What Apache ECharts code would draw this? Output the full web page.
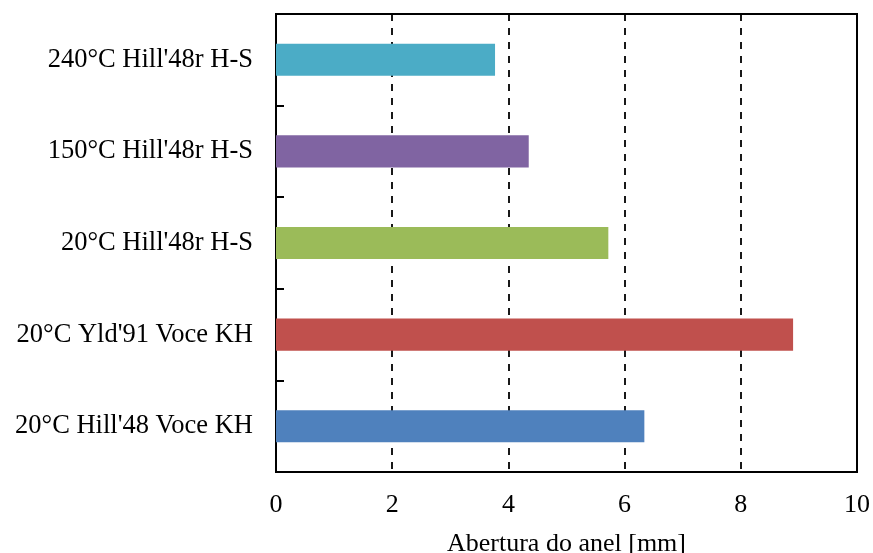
<!DOCTYPE html>
<html>
<head>
<meta charset="utf-8">
<script src="https://cdn.jsdelivr.net/npm/echarts@6/dist/echarts.min.js"></script>
<style>
  html, body { margin: 0; padding: 0; background: #fff; overflow: hidden; }
  #chart { width: 873px; height: 553px; }
</style>
</head>
<body>
<div id="chart"></div>
<script>
// Ring opening per simulation case (bottom to top on the category axis)
const categories = [
  "20°C Hill'48 Voce KH",
  "20°C Yld'91 Voce KH",
  "20°C Hill'48r H-S",
  "150°C Hill'48r H-S",
  "240°C Hill'48r H-S"
];
const openings = [6.34, 8.90, 5.72, 4.35, 3.77];
const barColors = ['#4F81BD', '#C0504D', '#9BBB59', '#8064A2', '#4BACC6'];
const xTicks = [0, 2, 4, 6, 8, 10];

const font = '"Liberation Serif", "Times New Roman", serif';
const chart = echarts.init(document.getElementById('chart'), null, { width: 873, height: 553 });

chart.setOption({
  animation: false,
  backgroundColor: '#fff',
  grid: { left: 276, width: 581, top: 14, height: 458, containLabel: false,
          outerBoundsMode: 'none',
          show: true, borderColor: '#000', borderWidth: 2 },
  xAxis: {
    type: 'value',
    min: xTicks[0],
    max: xTicks[xTicks.length - 1],
    interval: 2,
    name: 'Abertura do anel [mm]',
    nameLocation: 'middle',
    nameGap: 59,
    nameTextStyle: { fontFamily: font, fontSize: 26, color: '#000' },
    axisLine: { show: true, lineStyle: { color: '#000', width: 2 } },
    axisTick: { show: false },
    axisLabel: { fontFamily: font, fontSize: 26, color: '#000', margin: 20 },
    splitLine: {
      show: true,
      lineStyle: { color: '#000', type: [7, 7], width: 1.8 }
    }
  },
  yAxis: {
    type: 'category',
    data: categories,
    axisLine: { show: true, lineStyle: { color: '#000', width: 2 } },
    axisTick: { show: true, inside: true, length: 8, lineStyle: { color: '#000', width: 2 } },
    axisLabel: { fontFamily: font, fontSize: 26.5, color: '#000', margin: 23 },
    splitLine: { show: false }
  },
  series: [{
    type: 'bar',
    data: openings.map((v, i) => ({ value: v, itemStyle: { color: barColors[i] } })),
    barWidth: '35%'
  }]
});
</script>
</body>
</html>
